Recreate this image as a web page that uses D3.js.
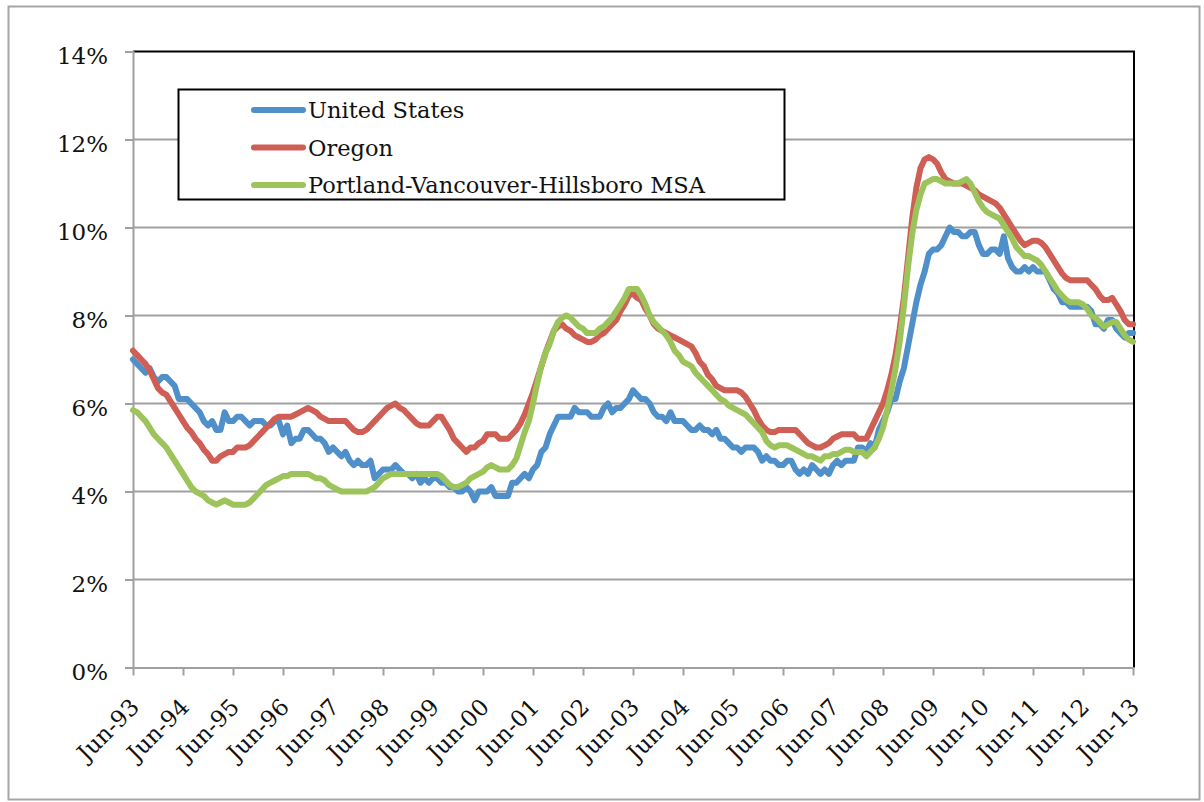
<!DOCTYPE html>
<html>
<head>
<meta charset="utf-8">
<script src="https://cdn.jsdelivr.net/npm/d3@7"></script>
<style>
  html, body { margin: 0; padding: 0; background: #fff; }
  svg { display: block; }
  text { font-family: "DejaVu Serif", "Liberation Serif", serif; fill: #111; }
</style>
</head>
<body>
<svg id="chart" width="1204" height="802"></svg>
<script>
// Monthly unemployment rate (%), June 1993 through June 2013
const startYear = 1993, startMonth = 5; // June 1993 (0-based month)

const unitedStates = [
  7.0, 6.9, 6.8, 6.7, 6.8, 6.6, 6.5,
  6.6, 6.6, 6.5, 6.4, 6.1, 6.1, 6.1, 6.0, 5.9, 5.8, 5.6, 5.5,
  5.6, 5.4, 5.4, 5.8, 5.6, 5.6, 5.7, 5.7, 5.6, 5.5, 5.6, 5.6,
  5.6, 5.5, 5.5, 5.6, 5.6, 5.3, 5.5, 5.1, 5.2, 5.2, 5.4, 5.4,
  5.3, 5.2, 5.2, 5.1, 4.9, 5.0, 4.9, 4.8, 4.9, 4.7, 4.6, 4.7,
  4.6, 4.6, 4.7, 4.3, 4.4, 4.5, 4.5, 4.5, 4.6, 4.5, 4.4, 4.4,
  4.3, 4.4, 4.2, 4.3, 4.2, 4.3, 4.3, 4.2, 4.2, 4.1, 4.1, 4.0,
  4.0, 4.1, 4.0, 3.8, 4.0, 4.0, 4.0, 4.1, 3.9, 3.9, 3.9, 3.9,
  4.2, 4.2, 4.3, 4.4, 4.3, 4.5, 4.6, 4.9, 5.0, 5.3, 5.5, 5.7,
  5.7, 5.7, 5.7, 5.9, 5.8, 5.8, 5.8, 5.7, 5.7, 5.7, 5.9, 6.0,
  5.8, 5.9, 5.9, 6.0, 6.1, 6.3, 6.2, 6.1, 6.1, 6.0, 5.8, 5.7,
  5.7, 5.6, 5.8, 5.6, 5.6, 5.6, 5.5, 5.4, 5.4, 5.5, 5.4, 5.4,
  5.3, 5.4, 5.2, 5.2, 5.1, 5.0, 5.0, 4.9, 5.0, 5.0, 5.0, 4.9,
  4.7, 4.8, 4.7, 4.7, 4.6, 4.6, 4.7, 4.7, 4.5, 4.4, 4.5, 4.4,
  4.6, 4.5, 4.4, 4.5, 4.4, 4.6, 4.7, 4.6, 4.7, 4.7, 4.7, 5.0,
  5.0, 4.9, 5.1, 5.0, 5.4, 5.6, 5.8, 6.1, 6.1, 6.5, 6.8, 7.3,
  7.8, 8.3, 8.7, 9.0, 9.4, 9.5, 9.5, 9.6, 9.8, 10.0, 9.9, 9.9,
  9.8, 9.8, 9.9, 9.9, 9.6, 9.4, 9.4, 9.5, 9.5, 9.4, 9.8, 9.3,
  9.1, 9.0, 9.0, 9.1, 9.0, 9.1, 9.0, 9.0, 9.0, 8.8, 8.6, 8.5,
  8.3, 8.3, 8.2, 8.2, 8.2, 8.2, 8.2, 8.1, 7.8, 7.8, 7.7, 7.9,
  7.9, 7.7, 7.6, 7.5, 7.6, 7.6
];

const oregon = [
  7.2, 7.1, 7.0, 6.9, 6.75, 6.55, 6.35,
  6.25, 6.2, 6.05, 5.9, 5.75, 5.6, 5.45, 5.35, 5.2, 5.1, 4.95, 4.85,
  4.7, 4.7, 4.8, 4.85, 4.9, 4.9, 5.0, 5.0, 5.0, 5.05, 5.15, 5.25,
  5.35, 5.45, 5.55, 5.65, 5.7, 5.7, 5.7, 5.7, 5.75, 5.8, 5.85, 5.9,
  5.85, 5.8, 5.7, 5.65, 5.6, 5.6, 5.6, 5.6, 5.6, 5.5, 5.4, 5.35,
  5.35, 5.4, 5.5, 5.6, 5.7, 5.8, 5.9, 5.95, 6.0, 5.9, 5.85, 5.75,
  5.65, 5.55, 5.5, 5.5, 5.5, 5.6, 5.7, 5.7, 5.55, 5.4, 5.2, 5.1,
  5.0, 4.9, 5.0, 5.0, 5.1, 5.15, 5.3, 5.3, 5.3, 5.2, 5.2, 5.2,
  5.3, 5.4, 5.55, 5.75, 6.0, 6.25, 6.55, 6.85, 7.15, 7.4, 7.65, 7.75,
  7.8, 7.7, 7.65, 7.55, 7.5, 7.45, 7.4, 7.4, 7.45, 7.55, 7.6, 7.7,
  7.8, 7.9, 8.1, 8.25, 8.45, 8.5, 8.4, 8.35, 8.15, 8.0, 7.8, 7.7,
  7.65, 7.6, 7.55, 7.5, 7.45, 7.4, 7.35, 7.3, 7.15, 6.95, 6.85, 6.65,
  6.55, 6.4, 6.35, 6.3, 6.3, 6.3, 6.3, 6.25, 6.15, 6.0, 5.85, 5.65,
  5.5, 5.4, 5.35, 5.35, 5.4, 5.4, 5.4, 5.4, 5.4, 5.3, 5.2, 5.1,
  5.05, 5.0, 5.0, 5.05, 5.1, 5.2, 5.25, 5.3, 5.3, 5.3, 5.3, 5.2,
  5.2, 5.2, 5.4, 5.6, 5.8, 6.0, 6.3, 6.65, 7.1, 7.7, 8.4, 9.3,
  10.2, 10.9, 11.35, 11.55, 11.6, 11.55, 11.45, 11.25, 11.1, 11.05, 11.0, 11.0,
  11.0, 10.95, 10.9, 10.85, 10.75, 10.7, 10.65, 10.6, 10.55, 10.45, 10.3, 10.15,
  10.0, 9.85, 9.7, 9.6, 9.65, 9.7, 9.7, 9.65, 9.55, 9.4, 9.25, 9.1,
  8.95, 8.85, 8.8, 8.8, 8.8, 8.8, 8.8, 8.7, 8.6, 8.45, 8.35, 8.35,
  8.4, 8.25, 8.1, 7.9, 7.8, 7.8
];

const portlandMSA = [
  5.85, 5.8, 5.7, 5.6, 5.45, 5.3, 5.2,
  5.1, 5.0, 4.85, 4.7, 4.55, 4.4, 4.25, 4.1, 4.0, 3.95, 3.9, 3.8,
  3.75, 3.7, 3.75, 3.8, 3.75, 3.7, 3.7, 3.7, 3.7, 3.75, 3.85, 3.95,
  4.05, 4.15, 4.2, 4.25, 4.3, 4.35, 4.35, 4.4, 4.4, 4.4, 4.4, 4.4,
  4.35, 4.3, 4.3, 4.25, 4.15, 4.1, 4.05, 4.0, 4.0, 4.0, 4.0, 4.0,
  4.0, 4.0, 4.05, 4.1, 4.2, 4.3, 4.35, 4.4, 4.4, 4.4, 4.4, 4.4,
  4.4, 4.4, 4.4, 4.4, 4.4, 4.4, 4.4, 4.35, 4.25, 4.15, 4.1, 4.1,
  4.15, 4.2, 4.3, 4.35, 4.4, 4.45, 4.55, 4.6, 4.55, 4.5, 4.5, 4.5,
  4.6, 4.75, 5.05, 5.35, 5.6, 6.0, 6.45, 6.85, 7.15, 7.35, 7.65, 7.85,
  7.95, 8.0, 7.95, 7.85, 7.75, 7.7, 7.6, 7.6, 7.6, 7.7, 7.75, 7.85,
  7.95, 8.1, 8.25, 8.4, 8.6, 8.6, 8.6, 8.45, 8.25, 8.0, 7.85, 7.75,
  7.65, 7.55, 7.4, 7.2, 7.1, 6.95, 6.9, 6.85, 6.7, 6.6, 6.5, 6.4,
  6.3, 6.2, 6.1, 6.05, 5.95, 5.9, 5.85, 5.8, 5.75, 5.65, 5.55, 5.45,
  5.35, 5.15, 5.05, 5.0, 5.05, 5.05, 5.05, 5.0, 4.95, 4.9, 4.85, 4.8,
  4.8, 4.75, 4.7, 4.8, 4.8, 4.85, 4.85, 4.9, 4.95, 4.95, 4.9, 4.9,
  4.9, 4.8, 4.9, 5.0, 5.2, 5.45, 5.85, 6.3, 6.8, 7.4, 8.2, 9.1,
  9.85, 10.4, 10.75, 11.0, 11.05, 11.1, 11.1, 11.05, 11.0, 11.0, 11.0, 11.0,
  11.05, 11.1, 11.0, 10.8, 10.6, 10.45, 10.35, 10.3, 10.25, 10.2, 10.05, 9.9,
  9.75, 9.55, 9.45, 9.35, 9.35, 9.3, 9.25, 9.15, 9.0, 8.85, 8.7, 8.55,
  8.45, 8.35, 8.3, 8.3, 8.3, 8.25, 8.15, 8.0, 7.95, 7.85, 7.75, 7.8,
  7.85, 7.85, 7.7, 7.55, 7.45, 7.4
];

const seriesNames = ["United States", "Oregon", "Portland-Vancouver-Hillsboro MSA"];
const seriesColors = ["#4f8fca", "#cf5e55", "#9dc45a"];
const xTickLabels = ["Jun-93","Jun-94","Jun-95","Jun-96","Jun-97","Jun-98","Jun-99","Jun-00",
  "Jun-01","Jun-02","Jun-03","Jun-04","Jun-05","Jun-06","Jun-07","Jun-08","Jun-09","Jun-10",
  "Jun-11","Jun-12","Jun-13"];
const yTicks = [0, 2, 4, 6, 8, 10, 12, 14];

const svg = d3.select("#chart");
const plot = { left: 133, right: 1133, top: 51.5, bottom: 667.5 };

// month index scale (uniform monthly spacing)
const nMonths = unitedStates.length;
const x = d3.scaleLinear().domain([0, nMonths - 1]).range([plot.left, plot.right]);
const y = d3.scaleLinear().domain([0, 14]).range([plot.bottom, plot.top]);

// outer chart frame
svg.append("rect")
  .attr("x", 8.5).attr("y", 6.5).attr("width", 1191).attr("height", 793)
  .attr("fill", "#fff").attr("stroke", "#a6a6a6").attr("stroke-width", 2);

// horizontal gridlines
svg.append("g").selectAll("line").data(yTicks.filter(d => d > 0 && d < 14)).join("line")
  .attr("x1", plot.left).attr("x2", plot.right)
  .attr("y1", d => y(d)).attr("y2", d => y(d))
  .attr("stroke", "#a0a0a0").attr("stroke-width", 2);

// plot area top and right border
svg.append("path")
  .attr("d", `M${plot.left},${y(14)}H${plot.right + 1}V${plot.bottom}`)
  .attr("fill", "none").attr("stroke", "#000").attr("stroke-width", 2);

// y axis
const yAxis = d3.axisLeft(y).tickValues(yTicks).tickSize(8).tickPadding(17)
  .tickFormat(d => d + "%");
const gy = svg.append("g").attr("transform", `translate(${plot.left},0)`).call(yAxis);
gy.select(".domain").attr("stroke", "#a0a0a0").attr("stroke-width", 2);
gy.selectAll(".tick line").attr("stroke", "#a0a0a0").attr("stroke-width", 2);
gy.selectAll(".tick text")
  .attr("font-family", "DejaVu Serif").attr("font-size", 23).attr("fill", "#111")
  .attr("dy", "0.5em");

// x axis, yearly ticks
const xTickVals = xTickLabels.map((_, i) => i * 12);
const xAxis = d3.axisBottom(x).tickValues(xTickVals).tickSize(8).tickSizeOuter(0)
  .tickFormat((d, i) => xTickLabels[i]);
const gx = svg.append("g").attr("transform", `translate(0,${plot.bottom})`).call(xAxis);
gx.select(".domain").attr("stroke", "#a0a0a0").attr("stroke-width", 2);
gx.selectAll(".tick line").attr("stroke", "#a0a0a0").attr("stroke-width", 2);
gx.selectAll(".tick text")
  .attr("font-family", "DejaVu Serif").attr("font-size", 23).attr("fill", "#111")
  .attr("text-anchor", "end").attr("y", 0).attr("dy", 0)
  .attr("transform", "translate(7,41) rotate(-45)");

// series lines
const line = d3.line().x((d, i) => x(i)).y(d => y(d)).curve(d3.curveLinear);
const allSeries = [unitedStates, oregon, portlandMSA];
svg.append("g").selectAll("path").data(allSeries).join("path")
  .attr("d", line)
  .attr("fill", "none")
  .attr("stroke", (d, i) => seriesColors[i])
  .attr("stroke-width", 6)
  .attr("stroke-linejoin", "round")
  .attr("stroke-linecap", "round");

// legend
const legend = svg.append("g");
legend.append("rect")
  .attr("x", 178.5).attr("y", 89.5).attr("width", 606).attr("height", 110)
  .attr("fill", "#fff").attr("stroke", "#000").attr("stroke-width", 2);
const rowY = [110, 147.5, 185];
const rows = legend.selectAll("g.row").data(seriesNames).join("g").attr("class", "row");
rows.append("line")
  .attr("x1", 254).attr("x2", 303)
  .attr("y1", (d, i) => rowY[i]).attr("y2", (d, i) => rowY[i])
  .attr("stroke", (d, i) => seriesColors[i]).attr("stroke-width", 6)
  .attr("stroke-linecap", "round");
rows.append("text")
  .attr("x", 308).attr("y", (d, i) => rowY[i] + 8)
  .attr("font-size", 22.5)
  .text(d => d);
</script>
</body>
</html>
